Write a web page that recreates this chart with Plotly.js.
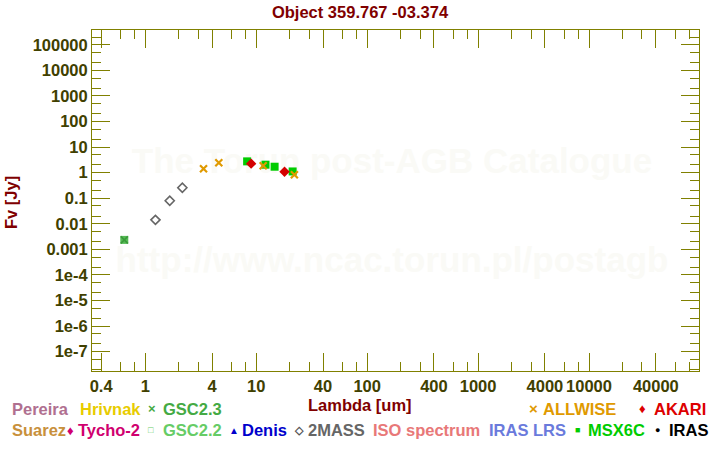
<!DOCTYPE html>
<html>
<head>
<meta charset="utf-8">
<script src="https://cdn.plot.ly/plotly-3.0.1.min.js"></script>
<style>html,body{margin:0;padding:0;background:#fff;}#chart{width:720px;height:450px;}</style>
</head>
<body>
<div id="chart"></div>
<script>
// ---- data (wavelength in um, flux in Jy) ----
const gsc22Lam = [0.647];
const gsc22F = [0.00234];
const gsc23Lam = [0.647];
const gsc23F = [0.00234];
const twomassLam = [1.235, 1.662, 2.159];
const twomassF = [0.0142, 0.079, 0.257];
const msxLam = [8.28, 12.13, 14.65, 21.3];
const msxF = [2.75, 2.04, 1.70, 1.11];
const akariLam = [9, 18];
const akariF = [2.24, 1.08];
const allwiseLam = [3.35, 4.6, 11.56, 22.08];
const allwiseF = [1.42, 2.44, 1.86, 0.83];

// ---- axis ticks ----
const xTickVals = [0.4, 1, 4, 10, 40, 100, 400, 1000, 4000, 10000, 40000];
const xTickText = ["0.4", "1", "4", "10", "40", "100", "400", "1000", "4000", "10000", "40000"];
const xMinorMant = [2, 3, 6, 8];
const yTickVals = [1e5, 1e4, 1e3, 100, 10, 1, 0.1, 0.01, 0.001, 1e-4, 1e-5, 1e-6, 1e-7];
const yTickText = ["100000", "10000", "1000", "100", "10", "1", "0.1", "0.01", "0.001", "1e-4", "1e-5", "1e-6", "1e-7"];
const yMinorMant = [2, 5];

// ---- watermark ----
const watermark = ["The Torun post-AGB Catalogue", "http://www.ncac.torun.pl/postagb"];

// ---- legend (text only) ----
const legendRow1 = [
  {t: "Pereira", c: "#b07090", x: 10},
  {t: "Hrivnak", c: "#e8cc00", x: 78},
  {t: "×", c: "#44aa44", x: 146, s: 13},
  {t: "GSC2.3", c: "#44aa44", x: 161},
  {t: "×", c: "#e09a00", x: 527, s: 15},
  {t: "ALLWISE", c: "#e09a00", x: 541},
  {t: "♦", c: "#dd0000", x: 637, s: 13},
  {t: "AKARI", c: "#dd0000", x: 652}
];
const legendRow2 = [
  {t: "Suarez", c: "#c8903c", x: 10},
  {t: "♦", c: "#d0006f", x: 65, s: 13},
  {t: "Tycho-2", c: "#d0006f", x: 76},
  {t: "□", c: "#66cc66", x: 146, s: 9},
  {t: "GSC2.2", c: "#66cc66", x: 161},
  {t: "▲", c: "#0000cc", x: 227, s: 10},
  {t: "Denis", c: "#0000cc", x: 240},
  {t: "◇", c: "#555555", x: 292, s: 11},
  {t: "2MASS", c: "#666666", x: 306},
  {t: "ISO spectrum", c: "#e87878", x: 371},
  {t: "IRAS LRS", c: "#6a7adc", x: 487},
  {t: "■", c: "#00cc00", x: 573, s: 9},
  {t: "MSX6C", c: "#00cc00", x: 586},
  {t: "●", c: "#000000", x: 653, s: 9},
  {t: "IRAS", c: "#000000", x: 667}
];

const W = 720, H = 450;
const M = {l: 92, r: 21, t: 30, b: 79};
const PW = W - M.l - M.r, PH = H - M.t - M.b;
const px = x => (x - M.l) / PW;
const py = y => (H - M.b - y) / PH;
const XR = [Math.log10(0.331), Math.log10(98000)];
const YR = [-7.757, 5.576];
// pixel -> data for text placed inside the plot
const dx = p => Math.pow(10, XR[0] + px(p) * (XR[1] - XR[0]));
const dy = p => Math.pow(10, YR[0] + py(p) * (YR[1] - YR[0]));

function minorVals(mant, lo, hi) {
  const out = [];
  for (let e = lo; e <= hi; e++) mant.forEach(m => out.push(m * Math.pow(10, e)));
  return out;
}
const xMinor = minorVals(xMinorMant, -1, 5);
const yMinor = minorVals(yMinorMant, -9, 5);

const FONT = "Liberation Sans, Arial, sans-serif";
const tickFont = {family: FONT, size: 16.5, color: "#404000", weight: "bold"};
const OLIVE = "#808000";

const traces = [
  {x: [dx(392), dx(392)], y: [dy(164), dy(263)], mode: "text", type: "scatter", text: watermark,
   textposition: "middle center", cliponaxis: false, hoverinfo: "skip",
   textfont: {family: FONT, size: 35, color: "rgb(250,250,246)", weight: "bold"}},
  {x: gsc22Lam, y: gsc22F, mode: "markers", type: "scatter", name: "GSC2.2",
   marker: {symbol: "square", size: 8, color: "#55bb55", line: {width: 0}}},
  {x: gsc23Lam, y: gsc23F, mode: "markers", type: "scatter", name: "GSC2.3",
   marker: {symbol: "x-thin", size: 7, color: "#3a9a3a", line: {width: 1.5, color: "#3a9a3a"}}},
  {x: twomassLam, y: twomassF, mode: "markers", type: "scatter", name: "2MASS",
   marker: {symbol: "diamond-open", size: 7, color: "#666666", line: {width: 1.6, color: "#666666"}}},
  {x: msxLam, y: msxF, mode: "markers", type: "scatter", name: "MSX6C",
   marker: {symbol: "square", size: 8, color: "#00cc00", line: {width: 0}}},
  {x: akariLam, y: akariF, mode: "markers", type: "scatter", name: "AKARI",
   marker: {symbol: "diamond", size: 8, color: "#d40000", line: {width: 0}}},
  {x: allwiseLam, y: allwiseF, mode: "markers", type: "scatter", name: "ALLWISE",
   marker: {symbol: "x-thin", size: 7, color: "#e09a00", line: {width: 2.2, color: "#e09a00"}}}
];

const annotations = [];
// axis titles
annotations.push({xref: "paper", yref: "paper", x: px(360), y: py(405), xanchor: "center", yanchor: "middle",
  text: "Lambda [um]", showarrow: false, font: {family: FONT, size: 16.5, color: "#800000", weight: "bold"}});
annotations.push({xref: "paper", yref: "paper", x: px(11), y: py(203), xanchor: "center", yanchor: "middle",
  text: "Fv [Jy]", textangle: -90,
  showarrow: false, font: {family: FONT, size: 16.5, color: "#800000", weight: "bold"}});
// legend
[[legendRow1, 409], [legendRow2, 430]].forEach(([row, yy]) => {
  row.forEach(e => annotations.push({xref: "paper", yref: "paper", x: px(e.x), y: py(yy), xanchor: "left",
    yanchor: "middle", text: e.t, showarrow: false,
    font: {family: FONT, size: e.s || 16.5, color: e.c, weight: "bold"}}));
});

const layout = {
  width: W, height: H,
  margin: M,
  paper_bgcolor: "#ffffff", plot_bgcolor: "#ffffff",
  showlegend: false,
  title: {text: "Object 359.767 -03.374", x: 0.5, xref: "container", xanchor: "center",
    y: 1 - 12 / H, yref: "container", yanchor: "middle",
    font: {family: FONT, size: 16.5, color: "#800000", weight: "bold"}},
  xaxis: {type: "log", range: XR,
    tickmode: "array", tickvals: xTickVals, ticktext: xTickText,
    ticks: "inside", ticklen: 18, tickwidth: 1, tickcolor: OLIVE,
    showline: true, linecolor: OLIVE, linewidth: 1, mirror: "allticks",
    showgrid: false, zeroline: false, tickfont: tickFont,
    minor: {tickmode: "array", tickvals: xMinor, ticks: "inside", ticklen: 9, tickwidth: 1, tickcolor: OLIVE, showgrid: false}},
  yaxis: {type: "log", range: YR,
    tickmode: "array", tickvals: yTickVals, ticktext: yTickText,
    ticks: "inside", ticklen: 18, tickwidth: 1, tickcolor: OLIVE,
    showline: true, linecolor: OLIVE, linewidth: 1, mirror: "allticks",
    showgrid: false, zeroline: false, tickfont: tickFont,
    minor: {tickmode: "array", tickvals: yMinor, ticks: "inside", ticklen: 9, tickwidth: 1, tickcolor: OLIVE, showgrid: false}},
  annotations: annotations
};

Plotly.newPlot("chart", traces, layout, {staticPlot: true, displayModeBar: false});
</script>
</body>
</html>
